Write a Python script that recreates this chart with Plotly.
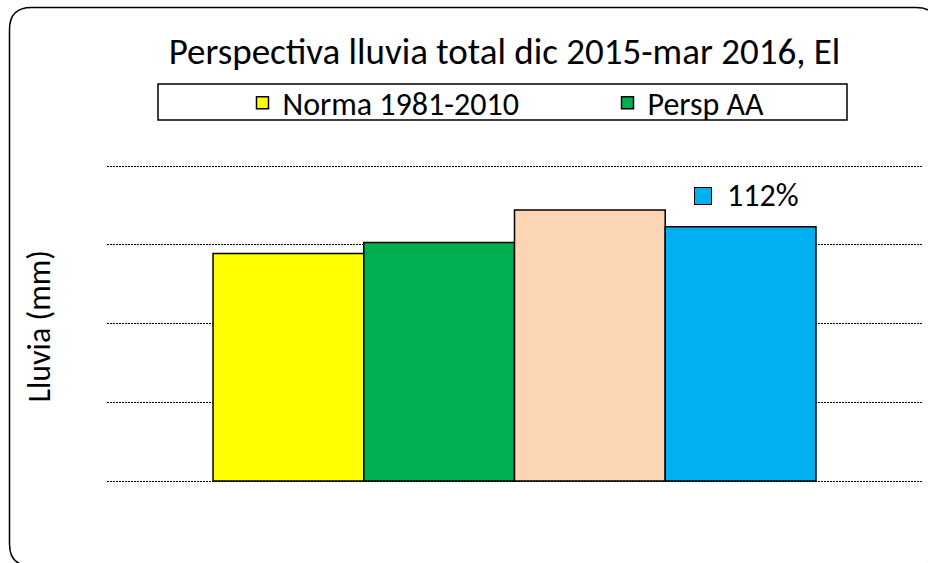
import plotly.graph_objects as go

# ---- data ----
series_names = ["Norma 1981-2010", "Persp AA", "Serie 3", "Serie 4"]
series_values = [289, 303, 344, 323]          # mm
series_colors = ["#FFFF00", "#00B050", "#FCD5B5", "#00B0F0"]
series_in_legend = [True, True, False, False]
title_text = "Perspectiva lluvia total dic 2015-mar 2016, El"
y_title = "Lluvia (mm)"
pct_label = f"{round(series_values[3] / series_values[0] * 100)}%"

FONT = "Calibri, Carlito, Lato, sans-serif"
W, H = 928, 563
# plot area in pixels: x 107..922, y 142..491 (value 0 sits at y=481)
ML, MR, MT, MB = 107, W - 922, 142, H - 491
PW, PH = W - ML - MR, H - MT - MB
Y_RANGE = [-12.7, 430.5]


def px_x(p):                 # pixel -> paper x
    return (p - ML) / PW


def px_y(p):                 # pixel -> paper y
    return (H - MB - p) / PH


fig = go.Figure()
for i, (n, v, c, sl) in enumerate(zip(series_names, series_values, series_colors, series_in_legend)):
    fig.add_trace(go.Bar(
        x=[i], y=[v], name=n, width=1.0, showlegend=sl,
        legendwidth=320 if i == 0 else None,
        marker=dict(color=c, line=dict(color="black", width=1.5)),
        hoverinfo="y+name",
    ))

# outer rounded frame (pixels)
L, T, R, B, r = 9.5, 7.5, 938, 566, 22
path = (f"M {px_x(L + r)},{px_y(T)} L {px_x(R - r)},{px_y(T)} Q {px_x(R)},{px_y(T)} {px_x(R)},{px_y(T + r)} "
        f"L {px_x(R)},{px_y(B - r)} Q {px_x(R)},{px_y(B)} {px_x(R - r)},{px_y(B)} "
        f"L {px_x(L + r)},{px_y(B)} Q {px_x(L)},{px_y(B)} {px_x(L)},{px_y(B - r)} "
        f"L {px_x(L)},{px_y(T + r)} Q {px_x(L)},{px_y(T)} {px_x(L + r)},{px_y(T)} Z")

shapes = [
    dict(type="path", xref="paper", yref="paper", path=path,
         line=dict(color="black", width=1.5), layer="below"),
    # legend box
    dict(type="rect", xref="paper", yref="paper",
         x0=px_x(158), x1=px_x(847), y0=px_y(120), y1=px_y(84),
         line=dict(color="black", width=1.5), fillcolor="white", layer="below"),
]

annotations = [
    dict(text=y_title, textangle=-90, xref="paper", yref="paper",
         x=px_x(39), y=px_y(326.5), xanchor="center", yanchor="middle",
         showarrow=False, font=dict(family=FONT, size=32, color="black")),
    # data label: legend key square + percentage for the last series
    dict(text=" ", x=3, y=series_values[3], xref="x", yref="y",
         xshift=-38, yshift=31, width=16, height=16, bgcolor=series_colors[3],
         bordercolor="black", borderwidth=1, borderpad=0, showarrow=False,
         font=dict(size=2)),
    dict(text=pct_label, x=3, y=series_values[3], xref="x", yref="y",
         xanchor="left", xshift=-16, yshift=31, showarrow=False,
         font=dict(family=FONT, size=32, color="black")),
]

fig.update_layout(
    width=W, height=H,
    margin=dict(l=ML, r=MR, t=MT, b=MB),
    paper_bgcolor="white", plot_bgcolor="white",
    barmode="overlay",
    title=dict(text=title_text, xref="container", yref="container",
               x=504.5 / W, y=1 - 51 / H, xanchor="center", yanchor="middle",
               font=dict(family=FONT, size=37, color="black")),
    xaxis=dict(range=[-1.2035, 4.2035], visible=False, showgrid=False, zeroline=False),
    yaxis=dict(range=Y_RANGE, tick0=0, dtick=100, showticklabels=False, ticks="",
               showgrid=True, gridcolor="black", gridwidth=1, griddash="2px,1px",
               zeroline=False, showline=False),
    legend=dict(orientation="h", x=px_x(242.5), y=px_y(103), xanchor="left", yanchor="middle",
                bgcolor="rgba(0,0,0,0)", borderwidth=0,
                font=dict(family=FONT, size=32, color="black")),
    shapes=shapes,
    annotations=annotations,
)

fig.write_html(
    "out.html",
    config={"displayModeBar": False},
    post_script="document.body.style.margin='0';document.body.style.overflow='hidden';",
)
